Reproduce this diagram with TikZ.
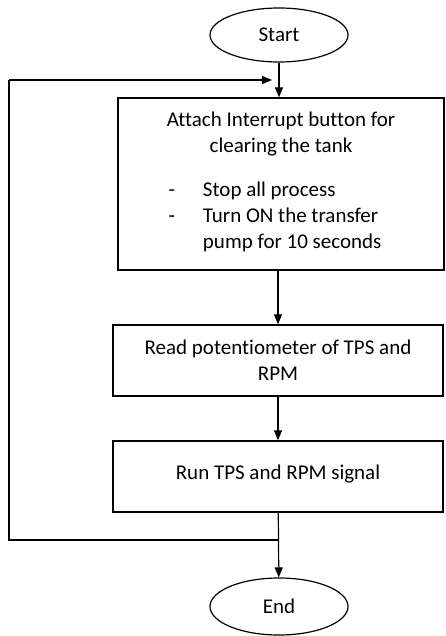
\documentclass[tikz,border=0pt]{standalone}
\usepackage{fontspec}
\setmainfont[Ligatures=CommonOff]{Carlito}
\usetikzlibrary{shapes.geometric,arrows.meta}

\tikzset{
  terminal/.style={draw,ellipse,line width=1.2pt,minimum width=138pt,minimum height=54pt,inner sep=0pt},
  process/.style={draw,rectangle,line width=1.4pt,align=center,inner sep=0pt},
  flow/.style={line width=1.2pt,-{Triangle[length=10pt,width=8pt]}},
  loopline/.style={line width=1.2pt}
}

\begin{document}
\begin{tikzpicture}[x=1pt,y=-1pt,font=\fontsize{21}{26}\selectfont]
        \useasboundingbox (0,0) rectangle (445,636);
        \node[terminal] (start) at (279,35) {Start};
        \node[process,minimum width=326pt,minimum height=172pt] (clear) at (281,184)
            {Attach Interrupt button for\\clearing the tank\\[21pt]
             \hspace*{-12pt}\begin{tabular}{@{}l@{\hspace{28pt}}l@{}}
             -&Stop all process\\
             -&Turn ON the transfer\\
             &pump for 10 seconds
             \end{tabular}};
        \node[process,minimum width=330pt,minimum height=71pt] (read) at (278,360.5)
            {Read potentiometer of TPS and\\RPM};
        \node[process,minimum width=330pt,minimum height=71pt] (run) at (278,476.5)
            {\raisebox{9pt}{Run TPS and RPM signal}};
        \node[terminal,minimum height=57pt] (end) at (279,606.5) {End};
        \coordinate (loopbot) at (9,540);
        \coordinate (looptop) at (9,80);
        \coordinate (looptip) at (272,80);
        \draw[flow] (start) -- (start.south |- clear.north);
        \draw[flow] (clear.south -| read.north) -- (read);
        \draw[flow] (read) -- (run);
        \draw[flow] (run) -- (end);
        \draw[loopline] (run.south |- loopbot) -- (loopbot) -- (looptop);
        \draw[flow] (looptop) -- (looptip);
    \end{tikzpicture}
\end{document}
